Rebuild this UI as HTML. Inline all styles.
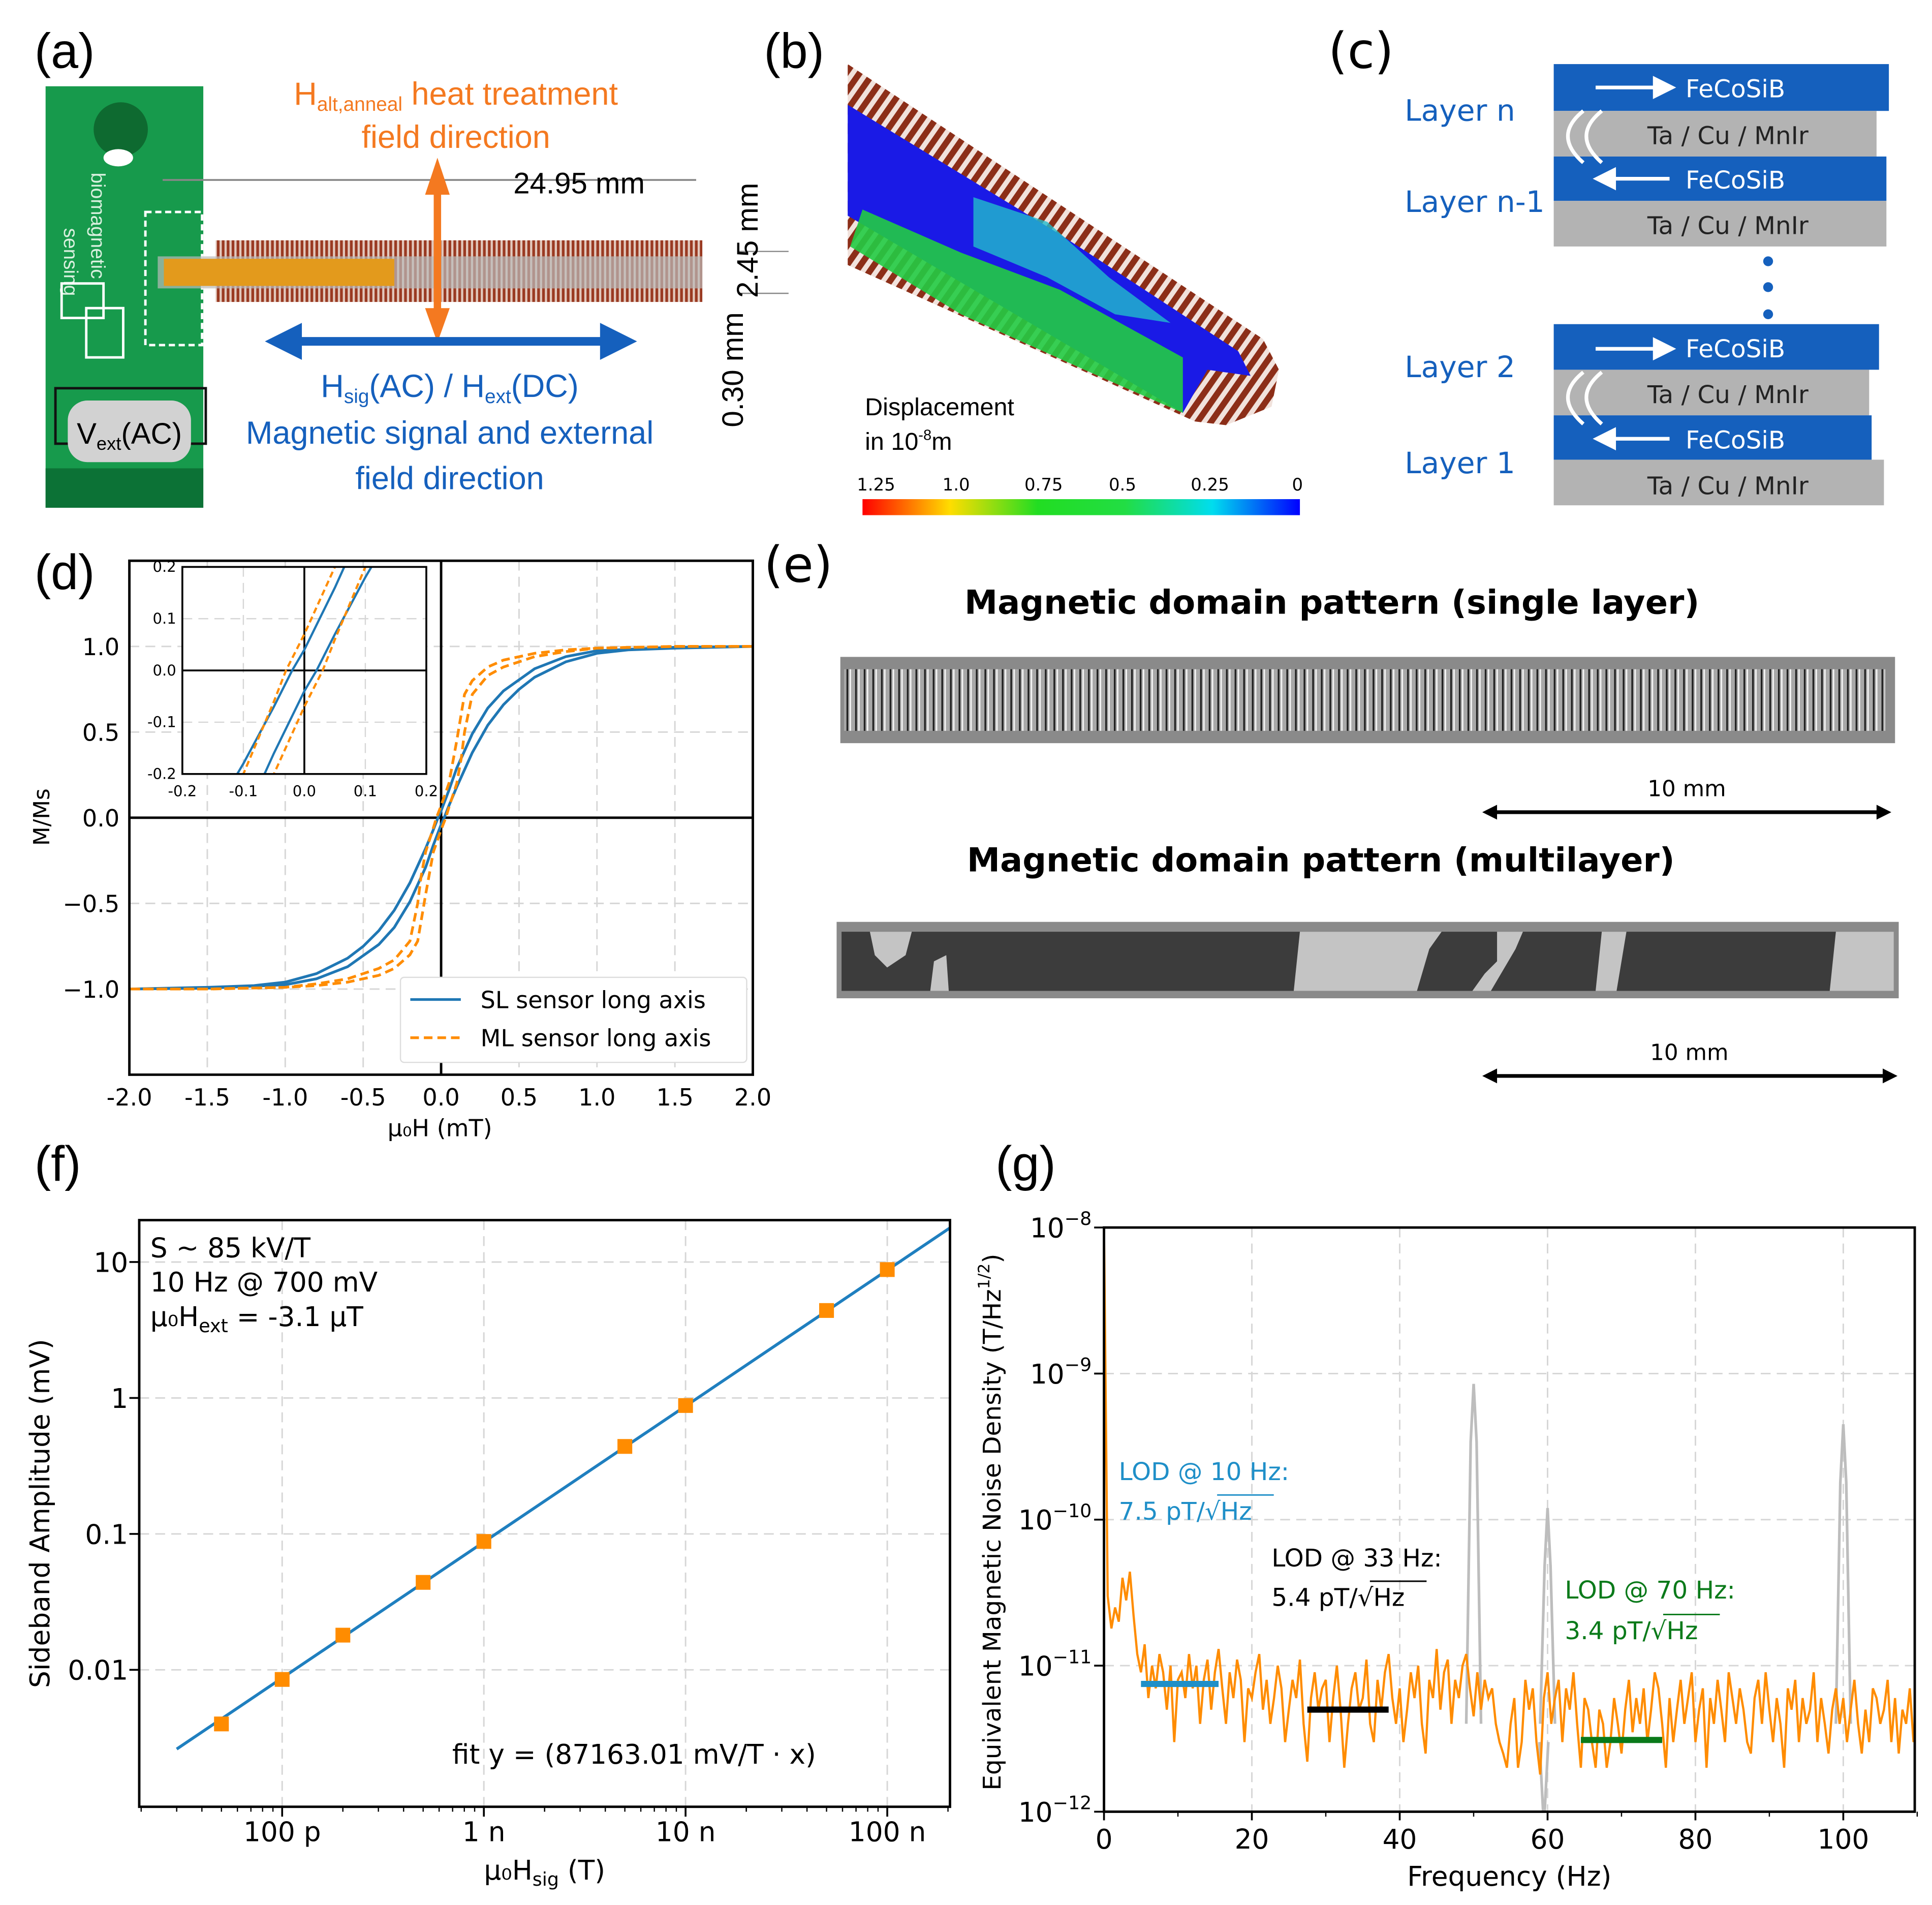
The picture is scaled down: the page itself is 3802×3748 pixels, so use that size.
<!DOCTYPE html>
<html><head><meta charset="utf-8">
<style>
html,body{margin:0;padding:0;background:#fff;width:3802px;height:3748px;overflow:hidden;}
svg{display:block;}
text{font-family:"DejaVu Sans","Liberation Sans",sans-serif;}
.cal{font-family:"Liberation Sans",sans-serif;}
</style></head>
<body>
<svg id="fig" width="3802" height="3748" viewBox="0 0 1568 1545.7" preserveAspectRatio="none" xmlns="http://www.w3.org/2000/svg">
<defs>
<pattern id="coil" width="4" height="10" patternUnits="userSpaceOnUse"><rect width="4" height="10" fill="#e2c8bc"/><rect width="2.2" height="10" fill="#9a3a22"/></pattern>
<pattern id="coilb" width="9" height="9" patternUnits="userSpaceOnUse" patternTransform="rotate(35)"><rect width="9" height="9" fill="#f1e2dc"/><rect width="5" height="9" fill="#8c2e18"/></pattern>
<pattern id="stripes" width="7" height="10" patternUnits="userSpaceOnUse"><rect width="7" height="10" fill="#a8a8a8"/><rect x="1" width="1.4" height="10" fill="#202020"/><rect x="3.5" width="1.2" height="10" fill="#f4f4f4"/></pattern>
<linearGradient id="cbar" x1="0" x2="1" y1="0" y2="0"><stop offset="0" stop-color="#ff0000"/><stop offset="0.2" stop-color="#ffdd00"/><stop offset="0.4" stop-color="#22dd22"/><stop offset="0.6" stop-color="#22dd44"/><stop offset="0.8" stop-color="#00ddee"/><stop offset="1" stop-color="#0000ff"/></linearGradient>
<clipPath id="clipD"><rect x="105" y="455" width="506" height="417"/></clipPath>
<clipPath id="clipIn"><rect x="148" y="460" width="198" height="168"/></clipPath>
<clipPath id="clipF"><rect x="113" y="990" width="658" height="476"/></clipPath>
<clipPath id="clipG"><rect x="896" y="996" width="658" height="474"/></clipPath>
</defs>

<!-- ===== Panel a ===== -->
<g>
<text x="28" y="55" font-size="40" class="cal">(a)</text>
<rect x="37" y="70" width="128" height="342" fill="#179a4c"/>
<rect x="37" y="380" width="128" height="32" fill="#0c7236"/>
<ellipse cx="98" cy="105" rx="22" ry="22" fill="#0e6a30"/>
<ellipse cx="96" cy="128" rx="12" ry="7" fill="#fff"/>
<text transform="translate(74,140) rotate(90)" font-size="16" fill="#d8f0de" class="cal">biomagnetic</text>
<text transform="translate(52,185) rotate(90)" font-size="16" fill="#d8f0de" class="cal">sensing</text>
<rect x="118" y="172" width="46" height="108" fill="none" stroke="#fff" stroke-dasharray="5,3" stroke-width="2"/>
<rect x="50" y="230" width="34" height="28" fill="none" stroke="#fff" stroke-width="2"/>
<rect x="70" y="250" width="30" height="40" fill="none" stroke="#fff" stroke-width="2"/>
<rect x="45" y="315" width="122" height="45" fill="none" stroke="#111" stroke-width="2"/>
<rect x="55" y="325" width="100" height="50" rx="16" fill="#d2d2d2"/>
<text x="105" y="360" font-size="24" text-anchor="middle" class="cal">V<tspan font-size="15" dy="5">ext</tspan><tspan dy="-5">(AC)</tspan></text>
<rect x="175" y="195" width="395" height="50" fill="url(#coil)"/>
<rect x="128" y="208" width="442" height="26" fill="#bbb" opacity="0.7"/>
<rect x="133" y="210" width="187" height="22" fill="#e39a1c"/>
<line x1="132" y1="146" x2="565" y2="146" stroke="#888" stroke-width="1.5"/>
<line x1="600" y1="204" x2="640" y2="204" stroke="#888"/><line x1="600" y1="238" x2="640" y2="238" stroke="#888"/>
<text x="470" y="157" font-size="24" text-anchor="middle" class="cal">24.95 mm</text>
<text transform="translate(615,195) rotate(-90)" font-size="24" class="cal" text-anchor="middle">2.45 mm</text>
<text transform="translate(603,300) rotate(-90)" font-size="24" class="cal" text-anchor="middle">0.30 mm</text>
<line x1="355" y1="145" x2="355" y2="262" stroke="#f47920" stroke-width="6"/>
<polygon points="355,128 345,158 365,158" fill="#f47920"/><polygon points="355,278 345,250 365,250" fill="#f47920"/>
<line x1="238" y1="277" x2="495" y2="277" stroke="#1560bd" stroke-width="7"/>
<polygon points="215,277 245,262 245,292" fill="#1560bd"/><polygon points="517,277 487,262 487,292" fill="#1560bd"/>
<text x="370" y="85" font-size="26" fill="#f47920" text-anchor="middle" class="cal">H<tspan font-size="16" dy="5">alt,anneal</tspan><tspan dy="-5"> heat treatment</tspan></text>
<text x="370" y="120" font-size="26" fill="#f47920" text-anchor="middle" class="cal">field direction</text>
<text x="365" y="322" font-size="26" fill="#1560bd" text-anchor="middle" class="cal">H<tspan font-size="16" dy="5">sig</tspan><tspan dy="-5">(AC) / H</tspan><tspan font-size="16" dy="5">ext</tspan><tspan dy="-5">(DC)</tspan></text>
<text x="365" y="360" font-size="26" fill="#1560bd" text-anchor="middle" class="cal">Magnetic signal and external</text>
<text x="365" y="397" font-size="26" fill="#1560bd" text-anchor="middle" class="cal">field direction</text>
</g>

<!-- ===== Panel b ===== -->
<g>
<text x="620" y="55" font-size="40" class="cal">(b)</text>
<polygon points="688,52 1025,275 1038,300 1032,330 995,345 970,342 688,215" fill="url(#coilb)"/>
<polygon points="688,85 860,190 1005,285 1015,305 980,300 960,335 688,175" fill="#1a1ae6"/>
<polygon points="700,170 780,205 860,235 960,290 960,335 880,300 780,255 690,200" fill="#22cc44" opacity="0.9"/>
<polygon points="790,160 850,180 900,225 950,262 905,255 850,225 790,200" fill="#22bbcc" opacity="0.8"/>
<text x="702" y="337" font-size="20" class="cal">Displacement</text>
<text x="702" y="365" font-size="20" class="cal">in 10<tspan font-size="12" dy="-8">-8</tspan><tspan dy="8">m</tspan></text>
<rect x="700" y="405" width="355" height="13" fill="url(#cbar)"/>
<g font-size="14" class="cal" text-anchor="middle">
<text x="711" y="398">1.25</text><text x="776" y="398">1.0</text><text x="847" y="398">0.75</text><text x="911" y="398">0.5</text><text x="982" y="398">0.25</text><text x="1053" y="398">0</text></g>
</g>

<!-- ===== Panel c ===== -->
<g class="cal">
<text x="1078" y="55" font-size="40">(c)</text>
<g>
<rect x="1261" y="52" width="272" height="38" fill="#1560bd"/><rect x="1261" y="90" width="262" height="37" fill="#b3b3b3"/>
<rect x="1261" y="127" width="270" height="36" fill="#1560bd"/><rect x="1261" y="163" width="270" height="37" fill="#b3b3b3"/>
</g>
<g>
<rect x="1261" y="263" width="264" height="37" fill="#1560bd"/><rect x="1261" y="300" width="256" height="37" fill="#b3b3b3"/>
<rect x="1261" y="337" width="258" height="36" fill="#1560bd"/><rect x="1261" y="373" width="268" height="37" fill="#b3b3b3"/>
</g>
<g fill="#fff" font-size="20">
<text x="1368" y="79">FeCoSiB</text><text x="1368" y="153">FeCoSiB</text><text x="1368" y="290">FeCoSiB</text><text x="1368" y="364">FeCoSiB</text></g>
<g fill="#222" font-size="20">
<text x="1337" y="117">Ta / Cu / MnIr</text><text x="1337" y="190">Ta / Cu / MnIr</text><text x="1337" y="327">Ta / Cu / MnIr</text><text x="1337" y="401">Ta / Cu / MnIr</text></g>
<g stroke="#fff" stroke-width="3" fill="#fff">
<line x1="1295" y1="71" x2="1345" y2="71"/><polygon points="1357,71 1343,64 1343,78"/>
<line x1="1310" y1="145" x2="1355" y2="145"/><polygon points="1296,145 1310,138 1310,152"/>
<line x1="1295" y1="283" x2="1345" y2="283"/><polygon points="1357,283 1343,276 1343,290"/>
<line x1="1310" y1="356" x2="1355" y2="356"/><polygon points="1296,356 1310,349 1310,363"/>
<path d="M1285,90 q-25,20 0,42 M1300,90 q-25,20 0,42" fill="none"/>
<path d="M1285,302 q-25,20 0,42 M1300,302 q-25,20 0,42" fill="none"/></g>
<g fill="#1560bd"><circle cx="1435" cy="212" r="4"/><circle cx="1435" cy="233" r="4"/><circle cx="1435" cy="255" r="4"/></g>
<g fill="#1560bd" font-size="24">
<text x="1140" y="98">Layer n</text><text x="1140" y="172">Layer n-1</text><text x="1140" y="306">Layer 2</text><text x="1140" y="384">Layer 1</text></g>
</g>

<!-- ===== Panel e ===== -->
<g class="cal">
<text x="620" y="472" font-size="40">(e)</text>
<text x="1081" y="498" font-size="27" font-weight="bold" text-anchor="middle">Magnetic domain pattern (single layer)</text>
<rect x="682" y="533" width="856" height="70" fill="#8a8a8a"/>
<rect x="685" y="543" width="845" height="50" fill="url(#stripes)"/>
<text x="1369" y="646" font-size="18" text-anchor="middle">10 mm</text>
<line x1="1210" y1="659" x2="1528" y2="659" stroke="#000" stroke-width="3"/>
<polygon points="1203,659 1215,653 1215,665"/><polygon points="1535,659 1523,653 1523,665"/>
<text x="1072" y="707" font-size="27" font-weight="bold" text-anchor="middle">Magnetic domain pattern (multilayer)</text>
<rect x="679" y="748" width="862" height="62" fill="#8a8a8a"/>
<rect x="683" y="756" width="854" height="48" fill="#3c3c3c"/>
<g fill="#c4c4c4">
<polygon points="706,756 740,756 735,775 720,785 710,775"/>
<polygon points="755,804 758,780 768,775 770,804"/>
<polygon points="1050,804 1055,756 1095,756 1120,756 1170,756 1160,770 1150,804"/>
<polygon points="1195,804 1205,790 1215,780 1215,756 1236,756 1230,770 1210,804"/>
<polygon points="1295,804 1300,756 1320,756 1312,804"/>
<polygon points="1485,804 1490,756 1537,756 1537,804"/></g>
<text x="1371" y="860" font-size="18" text-anchor="middle">10 mm</text>
<line x1="1210" y1="873" x2="1533" y2="873" stroke="#000" stroke-width="3"/>
<polygon points="1203,873 1215,867 1215,879"/><polygon points="1540,873 1528,867 1528,879"/>
</g>

<g id="panelD"></g>
<g id="panelF"></g>
<g id="panelG"></g>
</svg>

<script>
// ---------- Panel d data ----------
const slH = [2,1.5,1.0,0.8,0.6,0.4,0.3,0.2,0.1,0.05,0,-0.02,-0.05,-0.1,-0.2,-0.3,-0.4,-0.5,-0.6,-0.8,-1.0,-1.2,-1.5,-2];
const slM = [1,0.995,0.975,0.94,0.87,0.74,0.64,0.49,0.29,0.16,0.04,0,-0.07,-0.18,-0.38,-0.54,-0.66,-0.75,-0.82,-0.91,-0.96,-0.98,-0.99,-1];
const mlH = [2,1.5,1.0,0.8,0.6,0.4,0.3,0.2,0.15,0.1,0.05,0,-0.03,-0.05,-0.1,-0.13,-0.15,-0.2,-0.3,-0.4,-0.6,-0.8,-1,-1.5,-2];
const mlM = [1,1,0.99,0.98,0.96,0.92,0.88,0.8,0.72,0.45,0.2,0.07,0,-0.06,-0.2,-0.35,-0.5,-0.72,-0.83,-0.88,-0.94,-0.97,-0.99,-1,-1];
const dXTicks = [-2,-1.5,-1,-0.5,0,0.5,1,1.5,2];
const dYTicks = [-1,-0.5,0,0.5,1];
const inTicks = [-0.2,-0.1,0,0.1,0.2];
// ---------- Panel f data ----------
const fFields = [5e-11,1e-10,2e-10,5e-10,1e-9,5e-9,1e-8,5e-8,1e-7];
const fAmps = [0.0040,0.0085,0.018,0.044,0.088,0.44,0.88,4.4,8.8];
const fSlope = [8.716301e7]; // plotted amplitude (mV) per tesla
const fXTicks = [1e-10,1e-9,1e-8,1e-7];
const fXLabels = ["100 p","1 n","10 n","100 n"];
const fYTicks = [0.01,0.1,1,10];
const fYLabels = ["0.01","0.1","1","10"];
const fFitRange = [3e-11,2.05e-7];
// ---------- Panel g data (noise in pT/sqrt(Hz), 0.5 Hz spacing) ----------
const gStep = [0.5];
const gNoise = [10000,30,18,25,20,40,28,44,22,12,9,14,6,10,7,12,9,5,10,3,8,9,6,12,7,10,4,8,11,5,
 9,13,7,4,9,6,11,8,3,7,6,9,12,5,8,4,6,10,7,3,5,8,6,11,4,2.2,6,9,5,7,
 8,3,6,10,5,2,4,7,9,5,6,11,4,3,8,5,9,12,6,4,7,3,5,9,6,10,4,2.5,8,6,
 13,5,9,11,4,8,6,10,12,7,4.5,9,5,8,6,7,4,3,2.5,2,4,6,2,3,8,5,7,3,1.8,6,
 9,4,6,8,3,7,5,9,4,2,6,5,3,2,5,4,2,3,6,4,2.5,5,8,3.5,6,4,7,3,5,9,
 7,4,2,6,3,5,8,4,6,9,3,5,7,2,6,4,8,5,3,9,6,4,7,5,3,2.5,6,8,4,9,
 5,3,6,4,2,7,5,8,3,6,4,5,9,3,6,4,2.5,5,7,4,6,3,5,8,4,2.5,5,3,7,6,4,
 5,8,3,6,2.5,5,4,7,3,6,8];
const gPeakF = [50,60,100];
const gPeakV = [850,120,450];
const gDipF = [59.5];
const gDipV = [0.8];
const gLodF0 = [5,27.5,64.5];
const gLodF1 = [15.5,38.5,75.5];
const gLodV = [7.5,5.0,3.1];
const gLodColor = ["#1f8fc8","#000000","#0a7a1a"];
const gXTicks = [0,20,40,60,80,100];
const gYExp = [-8,-9,-10,-11,-12];

const NS="http://www.w3.org/2000/svg";
function mk(parent,tag,attrs,text){const e=document.createElementNS(NS,tag);for(const k in attrs)e.setAttribute(k,attrs[k]);if(text!==undefined)e.textContent=text;parent.appendChild(e);return e;}
const GRID={stroke:"#d6d6d6","stroke-width":1.2,"stroke-dasharray":"8,5"};

// ================= Panel d =================
(function(){
const g=document.getElementById('panelD');
const L=105,R=611,T=455,B=872;
const X=h=>L+(h+2)/4*(R-L), Y=m=>(T+B)/2-m/1.5*((B-T)/2);
mk(g,'text',{x:28,y:478,'font-size':40,class:'cal'},'(d)');
dXTicks.forEach(t=>{const l=mk(g,'line',Object.assign({x1:X(t),x2:X(t),y1:T,y2:B},GRID));
 
 const tx=mk(g,'text',{x:X(t),y:897,'font-size':19,'text-anchor':'middle'},t.toFixed(1));
 });
dYTicks.forEach(t=>{mk(g,'line',Object.assign({x1:L,x2:R,y1:Y(t),y2:Y(t)},GRID));
 const tx=mk(g,'text',{x:97,y:Y(t)+7,'font-size':19,'text-anchor':'end'},(t<0?'\u2212':'')+Math.abs(t).toFixed(1));
 });
mk(g,'line',{x1:X(0),x2:X(0),y1:T,y2:B,stroke:'#000','stroke-width':2});
mk(g,'line',{x1:L,x2:R,y1:Y(0),y2:Y(0),stroke:'#000','stroke-width':2});
const cg=mk(g,'g',{'clip-path':'url(#clipD)'});
function branch(H,M,sign){return H.map((h,i)=>(X(sign*h)).toFixed(1)+','+(Y(sign*M[i])).toFixed(1)).join(' ');}
[[slH,slM,'#1f77b4',null,'sl-curve'],[mlH,mlM,'#ff8c00','7,4','ml-curve']].forEach(([H,M,c,d,n])=>{
 [1,-1].forEach(s=>{const p=mk(cg,'polyline',{points:branch(H,M,s),fill:'none',stroke:c,'stroke-width':2.2});if(d)p.setAttribute('stroke-dasharray',d);
 });});
mk(g,'rect',{x:L,y:T,width:R-L,height:B-T,fill:'none',stroke:'#000','stroke-width':2});
const iL=148,iR=346,iT=460,iB=628;
const iX=h=>iL+(h+0.2)/0.4*(iR-iL), iY=m=>(iT+iB)/2-m/0.2*((iB-iT)/2);
const ig=mk(g,'g',{});
mk(ig,'rect',{x:iL,y:iT,width:iR-iL,height:iB-iT,fill:'#fff'});
inTicks.forEach(t=>{mk(ig,'line',Object.assign({x1:iX(t),x2:iX(t),y1:iT,y2:iB},GRID,{'stroke-width':1}));
 mk(ig,'line',Object.assign({x1:iL,x2:iR,y1:iY(t),y2:iY(t)},GRID,{'stroke-width':1}));
 mk(ig,'text',{x:iX(t),y:646,'font-size':12,'text-anchor':'middle'},t.toFixed(1));
 mk(ig,'text',{x:143,y:iY(t)+4,'font-size':12,'text-anchor':'end'},t.toFixed(1));});
mk(ig,'line',{x1:iX(0),x2:iX(0),y1:iT,y2:iB,stroke:'#000','stroke-width':1.5});
mk(ig,'line',{x1:iL,x2:iR,y1:iY(0),y2:iY(0),stroke:'#000','stroke-width':1.5});
const icg=mk(ig,'g',{'clip-path':'url(#clipIn)'});
function ib(H,M,s){return H.map((h,i)=>(iX(s*h)).toFixed(1)+','+(iY(s*M[i])).toFixed(1)).join(' ');}
[[slH,slM,'#1f77b4',null],[mlH,mlM,'#ff8c00','5,3']].forEach(([H,M,c,d])=>{[1,-1].forEach(s=>{const p=mk(icg,'polyline',{points:ib(H,M,s),fill:'none',stroke:c,'stroke-width':1.8});if(d)p.setAttribute('stroke-dasharray',d);});});
mk(ig,'rect',{x:iL,y:iT,width:iR-iL,height:iB-iT,fill:'none',stroke:'#000','stroke-width':1.5});
const lg=mk(g,'g',{});
mk(lg,'rect',{x:325,y:793,width:281,height:69,fill:'#fff',stroke:'#ddd',rx:3});
mk(lg,'line',{x1:333,x2:374,y1:811,y2:811,stroke:'#1f77b4','stroke-width':2.2});
mk(lg,'line',{x1:333,x2:374,y1:842,y2:842,stroke:'#ff8c00','stroke-width':2.2,'stroke-dasharray':'7,4'});
mk(lg,'text',{x:390,y:818,'font-size':19},'SL sensor long axis');
mk(lg,'text',{x:390,y:849,'font-size':19},'ML sensor long axis');
const yl=mk(g,'text',{transform:'translate(40,663) rotate(-90)','font-size':18,'text-anchor':'middle'},'M/Ms');

const xl=mk(g,'text',{x:357,y:922,'font-size':19,'text-anchor':'middle'},'\u03bc\u2080H (mT)');

})();

// ================= Panel f =================
(function(){
const g=document.getElementById('panelF');
const L=113,R=771,T=990,B=1466;
const lx0=Math.log10(1e-10)-(229-L)/163.7, lx1=lx0+(R-L)/163.7;
const ly1=Math.log10(10)+(1024-T)/110.3, ly0=ly1-(B-T)/110.3;
const X=v=>L+(Math.log10(v)-lx0)/(lx1-lx0)*(R-L), Y=v=>B-(Math.log10(v)-ly0)/(ly1-ly0)*(B-T);
mk(g,'text',{x:28,y:958,'font-size':40,class:'cal'},'(f)');
fXTicks.forEach((t,i)=>{mk(g,'line',Object.assign({x1:X(t),x2:X(t),y1:T,y2:B},GRID));
 const tx=mk(g,'text',{x:X(t),y:1494,'font-size':22,'text-anchor':'middle'},fXLabels[i]);
 
 mk(g,'line',{x1:X(t),x2:X(t),y1:B,y2:B+8,stroke:'#000','stroke-width':1.5});
 for(let k=2;k<10;k++){const v=t*k/10;if(X(v)>L)mk(g,'line',{x1:X(v),x2:X(v),y1:B,y2:B+4,stroke:'#000'});}
 for(let k=2;k<3;k++){const v=t*10*k/10;if(X(v)<R)mk(g,'line',{x1:X(v),x2:X(v),y1:B,y2:B+4,stroke:'#000'});}});
fYTicks.forEach((t,i)=>{mk(g,'line',Object.assign({x1:L,x2:R,y1:Y(t),y2:Y(t)},GRID));
 const tx=mk(g,'text',{x:104,y:Y(t)+8,'font-size':22,'text-anchor':'end'},fYLabels[i]);
 
 mk(g,'line',{x1:L-8,x2:L,y1:Y(t),y2:Y(t),stroke:'#000','stroke-width':1.5});});
const cg=mk(g,'g',{'clip-path':'url(#clipF)'});
const fit=mk(cg,'line',{x1:X(fFitRange[0]),y1:Y(fSlope[0]*fFitRange[0]),x2:X(fFitRange[1]),y2:Y(fSlope[0]*fFitRange[1]),stroke:'#1f7fbf','stroke-width':2.4});

fFields.forEach((f,i)=>{const r=mk(cg,'rect',{x:X(f)-6,y:Y(fAmps[i])-6,width:12,height:12,fill:'#ff8c00'});
 });
mk(g,'rect',{x:L,y:T,width:R-L,height:B-T,fill:'none',stroke:'#000','stroke-width':2});
mk(g,'text',{x:122,y:1020,'font-size':22},'S ~ 85 kV/T');
mk(g,'text',{x:122,y:1048,'font-size':22},'10 Hz @ 700 mV');
const t3=mk(g,'text',{x:122,y:1076,'font-size':22},'\u03bc\u2080H');mk(t3,'tspan',{'font-size':15,dy:5},'ext');mk(t3,'tspan',{dy:-5},' = -3.1 \u03bcT');
mk(g,'text',{x:367,y:1431,'font-size':22},'fit y = (87163.01 mV/T \u00b7 x)');
const yl=mk(g,'text',{transform:'translate(40,1228) rotate(-90)','font-size':22,'text-anchor':'middle'},'Sideband Amplitude (mV)');

const xl=mk(g,'text',{x:442,y:1525,'font-size':22,'text-anchor':'middle'},'\u03bc\u2080H');mk(xl,'tspan',{'font-size':15,dy:5},'sig');mk(xl,'tspan',{dy:-5},' (T)');

})();

// ================= Panel g =================
(function(){
const g=document.getElementById('panelG');
const L=896,R=1554,T=996,B=1470;
const X=f=>L+f*6, Y=v=>T+(-8-Math.log10(v*1e-12))*((B-T)/4);
mk(g,'text',{x:808,y:958,'font-size':40,class:'cal'},'(g)');
gXTicks.forEach(t=>{mk(g,'line',Object.assign({x1:X(t),x2:X(t),y1:T,y2:B},GRID));
 const tx=mk(g,'text',{x:X(t),y:1500,'font-size':22,'text-anchor':'middle'},String(t));
 
 mk(g,'line',{x1:X(t),x2:X(t),y1:B,y2:B+7,stroke:'#000','stroke-width':1.5});
 mk(g,'line',{x1:X(t+10),x2:X(t+10),y1:B,y2:B+4,stroke:'#000'});});
gYExp.forEach(e=>{const y=Y(Math.pow(10,e+12));
 if(e>-12&&e<-8)mk(g,'line',Object.assign({x1:L,x2:R,y1:y,y2:y},GRID));
 const tx=mk(g,'text',{x:886,y:y+8,'font-size':22,'text-anchor':'end'},'10');
 mk(tx,'tspan',{'font-size':15,dy:-10},'\u2212'+Math.abs(e));
 
 mk(g,'line',{x1:L-8,x2:L,y1:y,y2:y,stroke:'#000','stroke-width':1.5});});
const cg=mk(g,'g',{'clip-path':'url(#clipG)'});
gPeakF.forEach((f,i)=>{const p=mk(cg,'polyline',{points:[X(f-1)+','+Y(4),X(f-0.4)+','+Y(gPeakV[i]*0.4),X(f)+','+Y(gPeakV[i]),X(f+0.4)+','+Y(gPeakV[i]*0.4),X(f+1)+','+Y(4)].join(' '),fill:'none',stroke:'#bdbdbd','stroke-width':2.2});
 });
gDipF.forEach((f,i)=>{mk(cg,'polyline',{points:[X(f-0.6)+','+Y(3),X(f)+','+Y(gDipV[i]),X(f+0.6)+','+Y(3)].join(' '),fill:'none',stroke:'#bdbdbd','stroke-width':2.2});});
const pts=gNoise.map((v,i)=>X(i*gStep[0]).toFixed(1)+','+Y(v).toFixed(1)).join(' ');
const nl=mk(cg,'polyline',{points:pts,fill:'none',stroke:'#ff8c00','stroke-width':1.8});

gLodV.forEach((v,i)=>{const l=mk(cg,'line',{x1:X(gLodF0[i]),x2:X(gLodF1[i]),y1:Y(v),y2:Y(v),stroke:gLodColor[i],'stroke-width':5});
 });
mk(g,'rect',{x:L,y:T,width:R-L,height:B-T,fill:'none',stroke:'#000','stroke-width':2});
function sq(x,y,c,txt){mk(g,'text',{x:x,y:y,'font-size':20,fill:c},txt+'/\u221aHz');
 mk(g,'line',{x1:x+txt.length*11.3+12,x2:x+txt.length*11.3+58,y1:y-20,y2:y-20,stroke:c,'stroke-width':1.2});}
mk(g,'text',{x:908,y:1201,'font-size':20,fill:'#1f8fc8'},'LOD @ 10 Hz:');
sq(908,1233,'#1f8fc8','7.5 pT');
mk(g,'text',{x:1032,y:1271,'font-size':20,fill:'#000'},'LOD @ 33 Hz:');
sq(1032,1303,'#000','5.4 pT');
mk(g,'text',{x:1270,y:1297,'font-size':20,fill:'#0a7a1a'},'LOD @ 70 Hz:');
sq(1270,1330,'#0a7a1a','3.4 pT');
const yl=mk(g,'text',{transform:'translate(812,1235) rotate(-90)','font-size':20,'text-anchor':'middle'},'Equivalent Magnetic Noise Density (T/Hz');
mk(yl,'tspan',{'font-size':13,dy:-9},'1/2');mk(yl,'tspan',{dy:9},')');

const xl=mk(g,'text',{x:1225,y:1530,'font-size':22,'text-anchor':'middle'},'Frequency (Hz)');

})();
</script>
</body></html>
